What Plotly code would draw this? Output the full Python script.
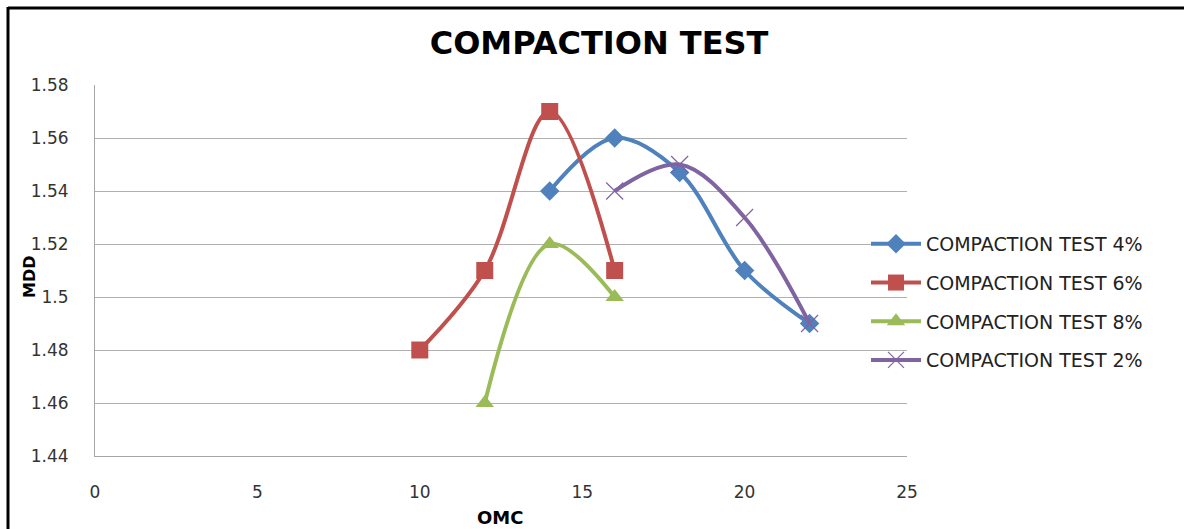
import plotly.graph_objects as go

W, H = 1184, 529
L, T, R, B = 95, 85, 277, 73

omc_4 = [14, 16, 18, 20, 22]
mdd_4 = [1.54, 1.56, 1.547, 1.51, 1.49]
omc_6 = [10, 12, 14, 16]
mdd_6 = [1.48, 1.51, 1.57, 1.51]
omc_8 = [12, 14, 16]
mdd_8 = [1.46, 1.52, 1.50]
omc_2 = [16, 18, 20, 22]
mdd_2 = [1.54, 1.55, 1.53, 1.49]

names = ["COMPACTION TEST 4%", "COMPACTION TEST 6%", "COMPACTION TEST 8%", "COMPACTION TEST 2%"]
colors = ["#4F81BD", "#C0504D", "#9BBB59", "#8064A2"]
FONT = "DejaVu Sans"

fig = go.Figure()
fig.add_trace(go.Scatter(x=omc_4, y=mdd_4, name=names[0], mode="lines+markers", legendgroup="a",
                         line=dict(color=colors[0], width=4, shape="spline", smoothing=1.0),
                         marker=dict(symbol="diamond", size=15, color=colors[0])))
fig.add_trace(go.Scatter(x=omc_6, y=mdd_6, name=names[1], mode="lines+markers", legendgroup="b",
                         line=dict(color=colors[1], width=4, shape="spline", smoothing=1.0),
                         marker=dict(symbol="square", size=17, color=colors[1])))
fig.add_trace(go.Scatter(x=omc_8, y=mdd_8, name=names[2], mode="lines+markers", legendgroup="c",
                         line=dict(color=colors[2], width=4, shape="spline", smoothing=1.0),
                         marker=dict(symbol="triangle-up", size=16, color=colors[2])))
fig.add_trace(go.Scatter(x=omc_2, y=mdd_2, name=names[3], mode="lines+markers", legendgroup="d",
                         line=dict(color=colors[3], width=4, shape="spline", smoothing=1.0),
                         marker=dict(symbol="x-thin", size=17, line=dict(color=colors[3], width=1.2))))

pw = W - L - R
ph = H - T - B
def px(xp):
    return (xp - L) / pw
def py(yp):
    return (H - B - yp) / ph

shapes = [
    dict(type="line", xref="paper", yref="paper", x0=px(8), x1=px(1190), y0=py(8), y1=py(8),
         line=dict(color="black", width=3)),
    dict(type="line", xref="paper", yref="paper", x0=px(8), x1=px(8), y0=py(7), y1=py(535),
         line=dict(color="black", width=3)),
]

annotations = [
    dict(text="<b>MDD</b>", xref="paper", yref="paper", x=px(29), y=py(277), textangle=-90,
         showarrow=False, xanchor="center", yanchor="middle",
         font=dict(family=FONT, size=16, color="black")),
    dict(text="<b>OMC</b>", xref="paper", yref="paper", x=px(500), y=py(517),
         showarrow=False, xanchor="center", yanchor="middle",
         font=dict(family=FONT, size=18, color="black")),
]

fig.update_layout(
    width=W, height=H,
    margin=dict(l=L, r=R, t=T, b=B, pad=0, autoexpand=False),
    paper_bgcolor="white", plot_bgcolor="white",
    font=dict(family=FONT, color="#222222", size=17),
    title=dict(text="<b>COMPACTION TEST</b>", x=599 / W, xref="container", xanchor="center",
               y=1 - 43 / H, yref="container", yanchor="middle",
               font=dict(family=FONT, size=32, color="black")),
    xaxis=dict(range=[0, 25], dtick=5, tick0=0, showgrid=False, zeroline=False, automargin=False,
               showline=True, linecolor="#A6A6A6", linewidth=1, ticks="",
               tickfont=dict(family=FONT, size=17, color="#333333"), ticklabelstandoff=21),
    yaxis=dict(range=[1.44, 1.58], dtick=0.02, tick0=1.44, showgrid=True, gridcolor="#B0B0B0",
               gridwidth=1, zeroline=False, showline=True, linecolor="#A6A6A6", linewidth=1,
               automargin=False, ticks="", tickfont=dict(family=FONT, size=17, color="#333333"),
               ticklabelstandoff=22),
    legend=dict(x=px(866), xanchor="left", y=py(302), yanchor="middle",
                font=dict(family=FONT, size=19, color="#222222"), itemwidth=50, tracegroupgap=11,
                bgcolor="rgba(0,0,0,0)"),
    shapes=shapes,
    annotations=annotations,
)

fig.write_html("out.html")
